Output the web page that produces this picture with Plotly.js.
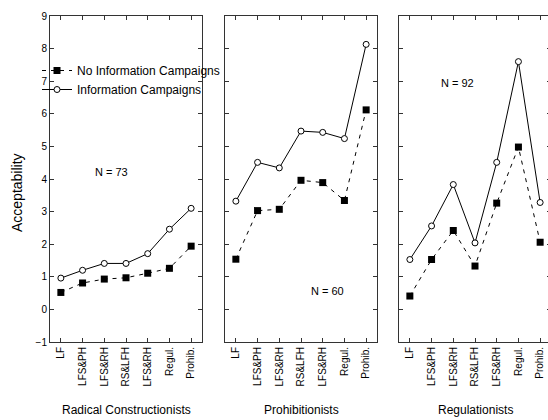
<!DOCTYPE html>
<html><head><meta charset="utf-8">
<script src="https://cdn.plot.ly/plotly-3.0.1.min.js"></script>
<style>html,body{margin:0;padding:0;overflow:hidden;background:#fff}</style>
</head><body><div id="chart"></div>
<script>
const tickLabels = ["LF","LFS&PH","LFS&RH","RS&LFH","LFS&RH","Regul.","Prohib."];
const positions = [0,1,2,3,4,5,6];
const groups = ["Radical Constructionists","Prohibitionists","Regulationists"];
const nLabels = ["N = 73","N = 60","N = 92"];
const infoRC = [0.96,1.20,1.41,1.41,1.71,2.46,3.10];
const noInfoRC = [0.52,0.81,0.93,0.97,1.11,1.26,1.94];
const infoP = [3.32,4.51,4.34,5.47,5.43,5.24,8.13];
const noInfoP = [1.54,3.03,3.07,3.96,3.89,3.34,6.12];
const infoR = [1.53,2.56,3.83,2.04,4.51,7.60,3.28];
const noInfoR = [0.41,1.53,2.42,1.33,3.26,4.98,2.06];

const W = 552, H = 420, ML = 50, MR = 1, MT = 16, MB = 78;
const PW = W - ML - MR, PH = H - MT - MB;
const dom = [[0, 152/PW], [175/PW, 327/PW], [349/PW, 1]];
const infoSets = [infoRC, infoP, infoR];
const noInfoSets = [noInfoRC, noInfoP, noInfoR];

const traces = [];
for (let i = 0; i < 3; i++) {
  const xa = i === 0 ? 'x' : 'x' + (i + 1);
  const ya = i === 0 ? 'y' : 'y' + (i + 1);
  traces.push({
    x: positions, y: noInfoSets[i], xaxis: xa, yaxis: ya, type: 'scatter', mode: 'lines+markers',
    name: 'No Information Campaigns', showlegend: i === 0, legendrank: 1,
    line: {color: '#000', width: 1, dash: '4px,5px'},
    marker: {symbol: 'square', size: 7, color: '#000'}
  });
  traces.push({
    x: positions, y: infoSets[i], xaxis: xa, yaxis: ya, type: 'scatter', mode: 'lines+markers',
    name: 'Information Campaigns', showlegend: i === 0, legendrank: 2,
    line: {color: '#000', width: 1},
    marker: {symbol: 'circle', size: 6, color: '#fff', line: {color: '#000', width: 1}}
  });
}

const layout = {
  width: W, height: H,
  margin: {l: ML, r: MR, t: MT, b: MB},
  paper_bgcolor: '#fff', plot_bgcolor: '#fff',
  font: {family: 'Liberation Sans, Arial, sans-serif', color: '#000', size: 10},
  showlegend: true,
  legend: {x: -13/PW, y: 1 - (56 - MT)/PH, xanchor: 'left', yanchor: 'top',
           bgcolor: 'rgba(0,0,0,0)', font: {size: 12}, tracegroupgap: 0, itemwidth: 30},
  annotations: [],
};
for (let i = 0; i < 3; i++) {
  const s = i === 0 ? '' : String(i + 1);
  layout['xaxis' + s] = {
    domain: dom[i], range: [-0.5, 6.5], anchor: 'y' + s,
    tickmode: 'array', tickvals: positions, ticktext: tickLabels, tickangle: -90,
    ticks: 'inside', ticklen: 4, tickcolor: '#333', mirror: 'ticks',
    showline: true, linecolor: '#333', linewidth: 1, showgrid: false, zeroline: false,
    tickfont: {size: 10}
  };
  layout['yaxis' + s] = {
    domain: [0, 1], range: [-1, 9], anchor: 'x' + s,
    tickmode: 'array', tickvals: [-1,0,1,2,3,4,5,6,7,8,9],
    showticklabels: i === 0,
    ticks: 'inside', ticklen: 4, tickcolor: '#333', mirror: 'ticks',
    showline: true, linecolor: '#333', linewidth: 1, showgrid: false, zeroline: false,
    tickfont: {size: 10}
  };
  layout.annotations.push({
    text: groups[i], xref: 'x' + s + ' domain', yref: 'paper', x: 0.5, y: -(410 - 342)/PH,
    xanchor: 'center', yanchor: 'middle', showarrow: false, font: {size: 12}
  });
}
layout.annotations.push({text: nLabels[0], xref: 'x', yref: 'y', x: 2.35, y: 4.2, showarrow: false, font: {size: 11}});
layout.annotations.push({text: nLabels[1], xref: 'x2', yref: 'y2', x: 4.2, y: 0.55, showarrow: false, font: {size: 11}});
layout.annotations.push({text: nLabels[2], xref: 'x3', yref: 'y3', x: 2.2, y: 6.95, showarrow: false, font: {size: 11}});
layout.annotations.push({text: 'Acceptability', xref: 'paper', yref: 'paper', x: -33/PW, y: 1 - (193 - MT)/PH,
  textangle: -90, xanchor: 'center', yanchor: 'middle', showarrow: false, font: {size: 14}});

Plotly.newPlot('chart', traces, layout, {displayModeBar: false, staticPlot: true});
</script></body></html>
